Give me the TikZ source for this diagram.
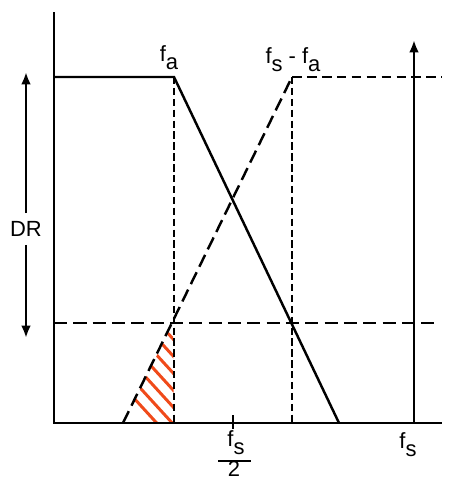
\documentclass[tikz,border=0pt]{standalone}
\usepackage{fontspec}
\setmainfont{Liberation Sans}
\usetikzlibrary{arrows.meta}
\definecolor{hatch}{HTML}{F04A1A}
\newcommand\lowsub[1]{\raisebox{-4.5pt}{#1}}
\begin{document}
\begin{tikzpicture}[x=0.02cm,y=-0.02cm, line width=1.4pt,
  lbl/.style={font=\fontsize{12.5}{14}\selectfont, inner sep=0pt},
  longdash/.style={dash pattern=on 7.5pt off 3.5pt},
  middash/.style={dash pattern=on 5.5pt off 3pt},
  shortdash/.style={dash pattern=on 4.2pt off 2pt},
  arr/.style={-{Latex[length=7pt,width=5.5pt]}},
  hatchline/.style={draw=hatch, line width=1.7pt}]
\useasboundingbox (0,0) rectangle (467,480);
% coordinates
\coordinate (O) at (54,423);
\coordinate (Ytop) at (54,12);
\coordinate (Xend) at (442,423);
\coordinate (TL) at (54,77);
\coordinate (A) at (174,77);
\coordinate (Abot) at (174,423);
\coordinate (Aend) at (339,423);
\coordinate (B) at (292,77);
\coordinate (Bbot) at (292,423);
\coordinate (Bend) at (123,423);
\coordinate (Cross) at (173,323);
\coordinate (TR) at (442,77);
\coordinate (DL) at (54,323);
\coordinate (DRend) at (436,323);
\coordinate (S) at (414,423);
\coordinate (Stop) at (414,40);
\coordinate (Tlow) at (233,415);
\coordinate (Thigh) at (233,429);
\coordinate (DRtop) at (26,72);
\coordinate (DRbot) at (26,338);
\coordinate (BarL) at (218,461);
\coordinate (BarR) at (251,461);
% hatch
\begin{scope}
  \clip (Bend) -- (Cross) -- (Abot) -- cycle;
  \foreach \y in {340,357,374,391,408,425,442}
    \draw[hatchline] (100,{\y-81}) -- (185,{\y+12});
\end{scope}
% axes
\draw (Ytop) -- (O) -- (Xend);
\draw (Tlow) -- (Thigh);
% solid response
\draw (TL) -- (A) -- (Aend);
% aliased response
\draw[longdash] (Bend) -- (B);
\draw[middash] (B) -- (TR);
% verticals
\draw[shortdash] (A) -- (Abot);
\draw[shortdash] (B) -- (Bbot);
% DR level
\draw[longdash] (DL) -- (DRend);
% fs arrow
\draw[arr] (S) -- (Stop);
% labels
\node[lbl] (fa) at (169,58) {f\lowsub{a}};
\node[lbl] (fsfa) at (293,60) {f\lowsub{s} - f\lowsub{a}};
\node[lbl] (fs) at (408,445) {f\lowsub{s}};
\node[lbl] (num) at (236,443) {f\lowsub{s}};
\node[lbl] (den) at (234,469) {2};
\draw[line width=1.4pt] (BarL) -- (BarR);
\node[lbl, inner sep=4pt] (drl) at (26,229) {DR};
\draw[arr] (drl.north) -- (DRtop);
\draw[arr] (drl.south) -- (DRbot);
\end{tikzpicture}
\end{document}
